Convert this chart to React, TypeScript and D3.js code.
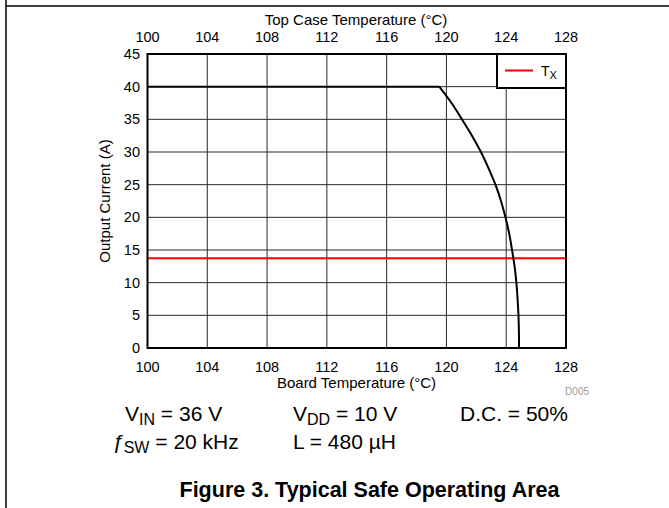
import React from "react";
import * as d3 from "d3";

const xTicks = [100, 104, 108, 112, 116, 120, 124, 128];
const yTicks = [0, 5, 10, 15, 20, 25, 30, 35, 40, 45];
const boardTemp = [
  100, 119.52, 120.34, 121.04, 121.71, 122.31, 122.82, 123.28, 123.65, 123.95,
  124.2, 124.39, 124.56, 124.68, 124.76, 124.82, 124.85, 124.86,
];
const outputCurrent = [
  40, 40, 37.5, 35, 32.5, 30, 27.5, 25, 22.5, 20,
  17.5, 15, 12.5, 10, 7.5, 5, 2.5, 0,
];
const txCurrent = 13.75;
const legendLabel = "T";
const legendSub = "X";

const W = 669;
const H = 508;
const FONT = "'Liberation Sans', Arial, Helvetica, sans-serif";

export default function App() {
  const left = 147.5, right = 566, top = 54, bottom = 348;
  const x = d3.scaleLinear().domain([100, 128]).range([left, right]);
  const y = d3.scaleLinear().domain([0, 45]).range([bottom, top]);

  const pts: [number, number][] = boardTemp.map((t, i) => [t, outputCurrent[i]]);
  const flat = d3.line<[number, number]>().x(d => x(d[0])).y(d => y(d[1]))(pts.slice(0, 2)) || "";
  const curve = d3
    .line<[number, number]>()
    .x(d => x(d[0]))
    .y(d => y(d[1]))
    .curve(d3.curveMonotoneY)(pts.slice(1)) || "";

  const gridColor = "#2a2a2a";
  const lgX0 = 497, lgY0 = top, lgX1 = right, lgY1 = 88;

  return (
    <svg
      width={W}
      height={H}
      style={{ position: "absolute", left: 0, top: 0, background: "#fff" }}
      fontFamily={FONT}
    >
      <rect x={0} y={0} width={W} height={H} fill="#fff" />
      {/* page frame lines */}
      <line x1={6} y1={6} x2={W} y2={6} stroke="#000" strokeWidth={1.5} />
      <line x1={6} y1={0} x2={6} y2={H} stroke="#000" strokeWidth={1.5} />

      {/* grid */}
      {xTicks.slice(1, -1).map(t => (
        <line key={"gx" + t} x1={x(t)} x2={x(t)} y1={top} y2={bottom} stroke={gridColor} strokeWidth={1} />
      ))}
      {yTicks.slice(1, -1).map(t => (
        <line key={"gy" + t} x1={left} x2={right} y1={y(t)} y2={y(t)} stroke={gridColor} strokeWidth={1} />
      ))}

      {/* Tx line */}
      <line x1={left} x2={right} y1={y(txCurrent)} y2={y(txCurrent)} stroke="#ff0000" strokeWidth={2} />

      {/* SOA curve */}
      <path d={flat} fill="none" stroke="#000" strokeWidth={2} />
      <path d={curve} fill="none" stroke="#000" strokeWidth={2} />

      {/* plot frame */}
      <rect x={left} y={top} width={right - left} height={bottom - top} fill="none" stroke="#000" strokeWidth={2} />

      {/* legend */}
      <rect x={lgX0} y={lgY0} width={lgX1 - lgX0} height={lgY1 - lgY0} fill="#fff" stroke="#000" strokeWidth={2} />
      <line x1={505} x2={533} y1={70.5} y2={70.5} stroke="#ff0000" strokeWidth={2} />
      <text x={541} y={76} fontSize={14} fill="#000">
        {legendLabel}
        <tspan fontSize={11} dy={2.5}>{legendSub}</tspan>
      </text>

      {/* top axis */}
      {xTicks.map(t => (
        <text key={"tx" + t} x={x(t)} y={41.5} fontSize={14.5} textAnchor="middle" fill="#000">{t}</text>
      ))}
      <text x={356} y={25} fontSize={15} textAnchor="middle" fill="#000">Top Case Temperature (°C)</text>

      {/* bottom axis */}
      {xTicks.map(t => (
        <text key={"bx" + t} x={x(t)} y={372} fontSize={14.5} textAnchor="middle" fill="#000">{t}</text>
      ))}
      <text x={356.5} y={388} fontSize={15} textAnchor="middle" fill="#000">Board Temperature (°C)</text>
      <text x={589} y={395} fontSize={10} textAnchor="end" fill="#999">D005</text>

      {/* y axis */}
      {yTicks.map(t => (
        <text key={"ly" + t} x={140} y={y(t) + 5} fontSize={14.5} textAnchor="end" fill="#000">{t}</text>
      ))}
      <text
        transform={`translate(110,${(top + bottom) / 2}) rotate(-90)`}
        fontSize={15}
        textAnchor="middle"
        fill="#000"
      >
        Output Current (A)
      </text>

      {/* conditions */}
      <text x={125} y={421} fontSize={21} fill="#000">
        V<tspan fontSize={16} dy={4}>IN</tspan><tspan dy={-4}> = 36 V</tspan>
      </text>
      <text x={293} y={421} fontSize={21} fill="#000">
        V<tspan fontSize={16} dy={4}>DD</tspan><tspan dy={-4}> = 10 V</tspan>
      </text>
      <text x={460} y={421} fontSize={21} fill="#000">D.C. = 50%</text>
      <text x={112} y={449} fontSize={21} fill="#000">
        <tspan fontStyle="italic">ƒ</tspan><tspan fontSize={16} dy={4}>SW</tspan><tspan dy={-4}> = 20 kHz</tspan>
      </text>
      <text x={293} y={449} fontSize={21} fill="#000">L = 480 µH</text>

      {/* caption */}
      <text x={369.5} y={497} fontSize={21.5} fontWeight="bold" textAnchor="middle" fill="#000">
        Figure 3. Typical Safe Operating Area
      </text>
    </svg>
  );
}
